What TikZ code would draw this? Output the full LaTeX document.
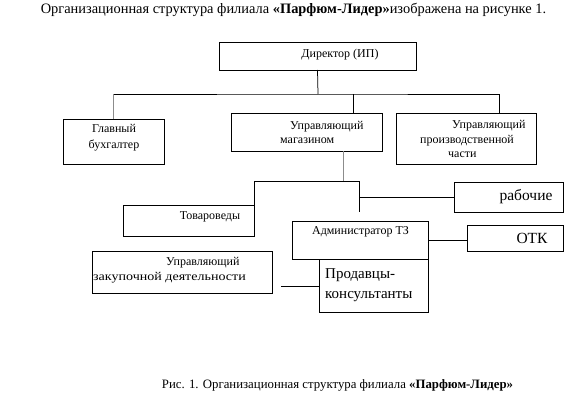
\documentclass[tikz,border=0pt]{standalone}
\usepackage{fontspec}
\setmainfont{Liberation Serif}
\usepackage{graphicx}
\usepackage{tikz}
\tikzstyle{oBox} = [rectangle, draw=black, line width=0.75pt, inner sep=0pt, outer sep=0pt]
\tikzstyle{oText} = [inner sep=0pt, font=\fontsize{12}{14}\selectfont]
\tikzstyle{oBigText} = [inner sep=0pt, font=\fontsize{15}{20}\selectfont]
\tikzstyle{oLine} = [line width=0.75pt, draw=black]
\tikzstyle{oGrayLine} = [line width=0.75pt, draw=black!45]

\begin{document}
\begin{tikzpicture}[x=1pt, y=-1pt]
    \useasboundingbox (0,0) rectangle (576,404);
    % headings
    \node (heading) [inner sep=0pt, font=\fontsize{14.4}{16}\selectfont] at (293.5,10) {Организационная структура филиала \textbf{«Парфюм-Лидер»}изображена на рисунке 1.};
    \node (caption) [inner sep=0pt, font=\fontsize{12.8}{15}\selectfont] at (337.5,385) {Рис. 1. Организационная структура филиала \textbf{«Парфюм-Лидер»}};

    % boxes
    \node (director) [oBox, minimum width=197, minimum height=28] at (317.5,56) {};
    \node (buh) [oBox, minimum width=101, minimum height=45] at (113.5,141.5) {};
    \node (mag) [oBox, minimum width=151, minimum height=38] at (306.5,132) {};
    \node (proizv) [oBox, minimum width=140, minimum height=51] at (466,138.5) {};
    \node (tovar) [oBox, minimum width=131, minimum height=31] at (188.5,220.5) {};
    \node (rab) [oBox, minimum width=109, minimum height=30] at (508.5,197) {};
    \node (admin) [oBox, minimum width=136, minimum height=38] at (360,240) {};
    \node (otk) [oBox, minimum width=96, minimum height=26] at (515,238) {};
    \node (zakup) [oBox, minimum width=180, minimum height=42] at (182,272) {};
    \node (prod) [oBox, minimum width=109, minimum height=53] at (373.5,285.5) {};

    % texts
    \node (directorText) [oText] at (340,55) {Директор (ИП)};
    \node (buhText) [oText, align=center, font=\fontsize{12}{16}\selectfont] at (114,138) {Главный\\бухгалтер};
    \node (magText) [oText, align=left, anchor=west] at (280,132) {\hspace*{10pt}Управляющий\\магазином};
    \node (proizvText) [oText, align=left, anchor=west, font=\fontsize{12}{14.5}\selectfont] at (420,139) {\hspace*{32pt}Управляющий\\производственной\\\hspace*{28pt}части};
    \node (tovarText) [oText] at (210,217) {Товароведы};
    \node (rabText) [oBigText, font=\fontsize{15.5}{18}\selectfont] at (526,197) {рабочие};
    \node (adminText) [oText] at (360.5,232) {Администратор ТЗ};
    \node (otkText) [oBigText, font=\fontsize{15.5}{18}\selectfont] at (532,238) {ОТК};
    \node (zakupText) [oText, align=left, anchor=west, font=\fontsize{12}{15}\selectfont] at (93,270.5) {\hspace*{73pt}Управляющий\\\scalebox{1.17}[1]{закупочной деятельности}};
    \node (prodText) [oBigText, align=left, anchor=west] at (325,285) {Продавцы-\\консультанты};

    % connectors
    \coordinate (bus) at (318,94);
    \coordinate (split) at (343,181);
    \coordinate (knee) at (359,181);
    \coordinate (kneeEnd) at (359,212);
    \coordinate (zakupEnd) at (281,286);
    \draw [oLine] (director.south) -- (bus);
    \draw [oGrayLine] (buh.north) -- (buh.north |- bus);
    \draw [oLine] (buh.north |- bus) -- (bus) -| ([xshift=33]proizv.north);
    \draw [oLine] ([xshift=46.5]mag.north) -- ([xshift=46.5]mag.north |- bus);
    \draw [oGrayLine] ([xshift=36.5]mag.south) -- (split);
    \draw [oLine] (tovar.north east) |- (knee) -- (kneeEnd);
    \draw [oLine] (rab.west) -- (rab.west -| knee);
    \draw [oLine] (admin.east) -- (admin.east -| otk.west);
    \draw [oLine] (zakupEnd) -- (zakupEnd -| prod.west);
\end{tikzpicture}
\end{document}
